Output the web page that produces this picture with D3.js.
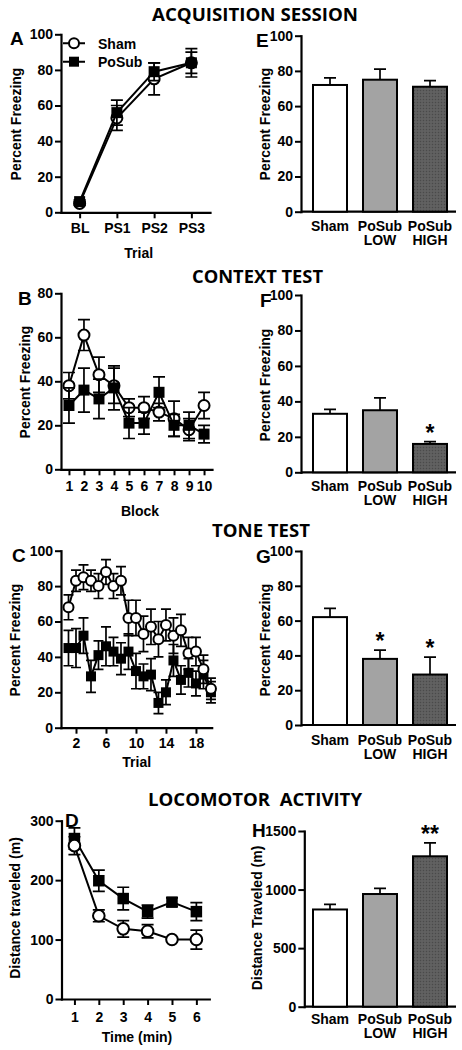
<!DOCTYPE html>
<html><head><meta charset="utf-8">
<script src="https://cdn.jsdelivr.net/npm/d3@7"></script>
<style>body{margin:0;background:#fff}svg{display:block}</style>
</head><body>
<script>
// ---------- DATA ----------
const acqTrials = ["BL","PS1","PS2","PS3"];
const acqSham = [5,53,75,84];
const acqShamErr = [1,7,9,8];
const acqPoSub = [6,56,79,84];
const acqPoSubErr = [1,7,5,6];

const ctxBlocks = [1,2,3,4,5,6,7,8,9,10];
const ctxSham = [38,61,43,38,28,28,26,23,18,29];
const ctxShamErr = [6,7,8,8,4,5,4,8,5,6];
const ctxPoSub = [29,36,32,37,21,21,35,20,20,16];
const ctxPoSubErr = [8,10,9,10,7,5,7,5,6,4];

const toneTrials = d3.range(1,21);
const toneSham = [68,83,85,83,80,88,80,83,62,62,53,57,50,58,52,55,42,43,33,22];
const toneShamErr = [7,6,7,6,7,7,7,8,10,10,10,10,10,9,10,9,9,8,8,6];
const tonePoSub = [45,45,52,29,41,46,43,39,43,32,29,30,14,20,38,27,31,25,30,20];
const tonePoSubErr = [10,11,10,9,8,11,8,9,10,10,7,9,6,7,9,8,8,7,8,6];

const locoMin = [1,2,3,4,5,6];
const locoSham = [258,140,118,114,100,100];
const locoShamErr = [15,10,14,11,3,16];
const locoPoSub = [270,199,169,147,163,147];
const locoPoSubErr = [18,18,19,11,7,15];

const groups = ["Sham","PoSub LOW","PoSub HIGH"];
const acqBar = [72,75,71];
const acqBarErr = [4,6,3.5];
const ctxBar = [33,35,16];
const ctxBarErr = [2.5,7,1.3];
const ctxStars = ["","","*"];
const toneBar = [62,38,29];
const toneBarErr = [5,5,10];
const toneStars = ["","*","*"];
const locoBar = [830,962,1284];
const locoBarErr = [44,48,114];
const locoStars = ["","","**"];

const pctTicks = [0,20,40,60,80,100];
const ctxTicks = [0,20,40,60,80];
const toneXTicks = [2,6,10,14,18];
const locoTicks = [0,100,200,300];
const distTicks = [0,500,1000,1500];

// ---------- DRAW ----------
const FONT = "'Liberation Sans', Arial, sans-serif";
const TFONT = "'Open Sans', sans-serif";
const fmt = d3.format("d");
const svg = d3.select("body").append("svg").attr("width",462).attr("height",1050);
const defs = svg.append("defs");
const pat = defs.append("pattern").attr("id","hatch").attr("width",3).attr("height",3).attr("patternUnits","userSpaceOnUse");
pat.append("rect").attr("width",3).attr("height",3).attr("fill","#5d5d5d");
pat.append("rect").attr("width",1).attr("height",1).attr("fill","#4a4a4a");
pat.append("rect").attr("x",1.5).attr("y",1.5).attr("width",1).attr("height",1).attr("fill","#6e6e6e");
const barFills = ["#ffffff","#a3a3a3","url(#hatch)"];

function title(txt, cx, by, len){
  svg.append("text").attr("x",cx).attr("y",by).attr("text-anchor","middle")
    .attr("font-family",TFONT).attr("font-weight",700).attr("font-size",17)
    .attr("textLength",len).attr("lengthAdjust","spacingAndGlyphs")
    .style("white-space","pre").text(txt);
}
function letter(t,x,y){
  svg.append("text").attr("x",x).attr("y",y).attr("font-family",FONT).attr("font-weight",700)
    .attr("font-size",19).text(t);
}
function ylabel(t,cx,cy){
  svg.append("text").attr("transform",`translate(${cx},${cy}) rotate(-90)`).attr("dy","0.35em")
    .attr("text-anchor","middle").attr("font-family",FONT).attr("font-weight",700).attr("font-size",14).text(t);
}
function xlabel(t,cx,by){
  svg.append("text").attr("x",cx).attr("y",by).attr("text-anchor","middle")
    .attr("font-family",FONT).attr("font-weight",700).attr("font-size",14).text(t);
}
function styleAxis(g){
  g.select(".domain").attr("stroke","#000").attr("stroke-width",2.2).attr("stroke-linecap","square");
  g.selectAll(".tick line").attr("stroke","#000").attr("stroke-width",2);
  g.selectAll(".tick text").attr("font-family",FONT).attr("font-weight",700).attr("font-size",14).attr("fill","#000");
}

function linePanel(c){
  const y = d3.scaleLinear().domain([0,c.yMax]).range([c.yBot,c.yTop]);
  const x = c.x;
  const g = svg.append("g");
  const ya = g.append("g").attr("transform",`translate(${c.x0},0)`)
    .call(d3.axisLeft(y).tickValues(c.yTicks).tickFormat(fmt).tickSize(6).tickSizeOuter(0).tickPadding(2));
  styleAxis(ya);
  const xAx = d3.axisBottom(x).tickValues(c.xTicks).tickSize(6).tickSizeOuter(0).tickPadding(c.xPad);
  if(c.xNumeric) xAx.tickFormat(fmt);
  const xa = g.append("g").attr("transform",`translate(0,${c.yBot})`).call(xAx);
  styleAxis(xa);
  const cw = c.cap;
  function series(vals, errs){
    const pts = c.cats.map((k,i)=>({k, v:vals[i], e:errs[i]}));
    const sg = g.append("g");
    sg.append("path").datum(pts).attr("fill","none").attr("stroke","#000").attr("stroke-width",2)
      .attr("d", d3.line().x(d=>x(d.k)).y(d=>y(d.v)));
    pts.forEach(d=>{
      const px = x(d.k), y1 = y(d.v+d.e), y2 = y(d.v-d.e);
      sg.append("path").attr("fill","none").attr("stroke","#000").attr("stroke-width",1.7)
        .attr("d",`M${px},${y1}V${y2}M${px-cw},${y1}H${px+cw}M${px-cw},${y2}H${px+cw}`);
    });
    return {sg, pts};
  }
  function markers(s, kind){
    s.pts.forEach(d=>{
      if(kind==="circle"){
        s.sg.append("circle").attr("cx",x(d.k)).attr("cy",y(d.v)).attr("r",c.r)
          .attr("fill","#fff").attr("stroke","#000").attr("stroke-width",2);
      } else {
        s.sg.append("rect").attr("x",x(d.k)-c.sq/2).attr("y",y(d.v)-c.sq/2)
          .attr("width",c.sq).attr("height",c.sq).attr("fill","#000");
      }
    });
  }
  if(c.shamOnTop){
    const p = series(c.posub,c.posubErr); markers(p,"square");
    const s = series(c.sham,c.shamErr); markers(s,"circle");
  } else {
    const s = series(c.sham,c.shamErr); markers(s,"circle");
    const p = series(c.posub,c.posubErr); markers(p,"square");
  }
}

function barPanel(c){
  const y = d3.scaleLinear().domain([0,c.yMax]).range([c.yBot,c.yTop]);
  const x = d3.scaleBand().domain(groups).range([296,464]).paddingInner(0.32).paddingOuter(0.34);
  const g = svg.append("g");
  const ya = g.append("g").attr("transform",`translate(${c.x0},0)`)
    .call(d3.axisLeft(y).tickValues(c.yTicks).tickFormat(fmt).tickSize(6).tickSizeOuter(0).tickPadding(2));
  styleAxis(ya);
  g.append("line").attr("x1",c.x0).attr("x2",456).attr("y1",c.yBot).attr("y2",c.yBot)
    .attr("stroke","#000").attr("stroke-width",2.2);
  groups.forEach((k,i)=>{
    const bx = x(k), bw = x.bandwidth(), cx = bx+bw/2;
    const top = y(c.vals[i]), et = y(c.vals[i]+c.errs[i]);
    g.append("path").attr("stroke","#000").attr("stroke-width",1.7).attr("fill","none")
      .attr("d",`M${cx},${top}V${et}M${cx-6},${et}H${cx+6}`);
    g.append("rect").attr("x",bx).attr("y",top).attr("width",bw).attr("height",c.yBot-top)
      .attr("fill",barFills[i]).attr("stroke","#000").attr("stroke-width",2);
    const lines = k.split(" ");
    lines.forEach((t,j)=>{
      g.append("text").attr("x",cx).attr("y",c.yBot+c.lab1+j*14).attr("text-anchor","middle")
        .attr("font-family",FONT).attr("font-weight",700).attr("font-size",14).text(t);
    });
    if(c.stars && c.stars[i]){
      g.append("text").attr("x",cx).attr("y",et-1).attr("text-anchor","middle")
        .attr("font-family",FONT).attr("font-weight",700).attr("font-size",23).text(c.stars[i]);
    }
  });
}

// Titles
title("ACQUISITION SESSION",255,20.5,206);
title("CONTEXT TEST",257.5,283,131);
title("TONE TEST",261,537,98);
title("LOCOMOTOR  ACTIVITY",255,805.5,214);

// Panel A
linePanel({x0:61,yTop:34.3,yBot:212.3,yMax:100,yTicks:pctTicks,
  x:d3.scalePoint().domain(acqTrials).range([61,210]).padding(0.5),
  cats:acqTrials,xTicks:acqTrials,xPad:5,cap:6,r:5.5,sq:11,
  sham:acqSham,shamErr:acqShamErr,posub:acqPoSub,posubErr:acqPoSubErr,shamOnTop:false});
letter("A",10,45);
ylabel("Percent Freezing",16,124);
xlabel("Trial",138.7,257.5);
// legend
svg.append("path").attr("d","M63,43.3H85M63,61.7H85").attr("stroke","#000").attr("stroke-width",2);
svg.append("circle").attr("cx",74).attr("cy",43.3).attr("r",5).attr("fill","#fff").attr("stroke","#000").attr("stroke-width",2);
svg.append("rect").attr("x",69).attr("y",56.7).attr("width",10).attr("height",10).attr("fill","#000");
svg.append("text").attr("x",98).attr("y",48.5).attr("font-family",FONT).attr("font-weight",700).attr("font-size",14).text("Sham");
svg.append("text").attr("x",98).attr("y",66.8).attr("font-family",FONT).attr("font-weight",700).attr("font-size",14).text("PoSub");

// Panel E
barPanel({x0:301,yTop:35.7,yBot:211.7,yMax:100,yTicks:pctTicks,vals:acqBar,errs:acqBarErr,lab1:19.5});
letter("E",256,47);
ylabel("Percent Freezing",265.5,124);

// Panel B
linePanel({x0:61,yTop:293.3,yBot:469.3,yMax:80,yTicks:ctxTicks,
  x:d3.scaleLinear().domain([0.47,10.53]).range([61,212]),
  cats:ctxBlocks,xTicks:ctxBlocks,xNumeric:true,xPad:5.5,cap:6,r:5.5,sq:11,
  sham:ctxSham,shamErr:ctxShamErr,posub:ctxPoSub,posubErr:ctxPoSubErr,shamOnTop:false});
letter("B",18,305);
ylabel("Percent Freezing",25,382);
xlabel("Block",140,515.5);

// Panel F
barPanel({x0:301,yTop:295,yBot:472.3,yMax:100,yTicks:pctTicks,vals:ctxBar,errs:ctxBarErr,stars:ctxStars,lab1:19});
letter("F",260,307);
ylabel("Percent Freezing",265.5,385);

// Panel C
linePanel({x0:61,yTop:550.7,yBot:727.7,yMax:100,yTicks:pctTicks,
  x:d3.scaleLinear().domain([0,20.1]).range([61,211.7]),
  cats:toneTrials,xTicks:toneXTicks,xNumeric:true,xPad:4,cap:5,r:5,sq:10,
  sham:toneSham,shamErr:toneShamErr,posub:tonePoSub,posubErr:tonePoSubErr,shamOnTop:true});
letter("C",12,562);
ylabel("Percent Freezing",15,640);
xlabel("Trial",136.7,767);

// Panel G
barPanel({x0:301,yTop:551,yBot:725,yMax:100,yTicks:pctTicks,vals:toneBar,errs:toneBarErr,stars:toneStars,lab1:19.5});
letter("G",256,563);
ylabel("Percent Freezing",265.5,640);

// Panel D
linePanel({x0:61.5,yTop:820.7,yBot:999,yMax:300,yTicks:locoTicks,
  x:d3.scaleLinear().domain([0.47,6.53]).range([61.5,209.3]),
  cats:locoMin,xTicks:locoMin,xNumeric:true,xPad:7,cap:6,r:5.8,sq:11.5,
  sham:locoSham,shamErr:locoShamErr,posub:locoPoSub,posubErr:locoPoSubErr,shamOnTop:true});
letter("D",65,827);
ylabel("Distance traveled (m)",15,908);
xlabel("Time (min)",137,1041.5);

// Panel H
barPanel({x0:304.3,yTop:831,yBot:1006.7,yMax:1500,yTicks:distTicks,vals:locoBar,errs:locoBarErr,stars:locoStars,lab1:17.5});
letter("H",252,837);
ylabel("Distance Traveled (m)",257,918);
</script>
</body></html>
